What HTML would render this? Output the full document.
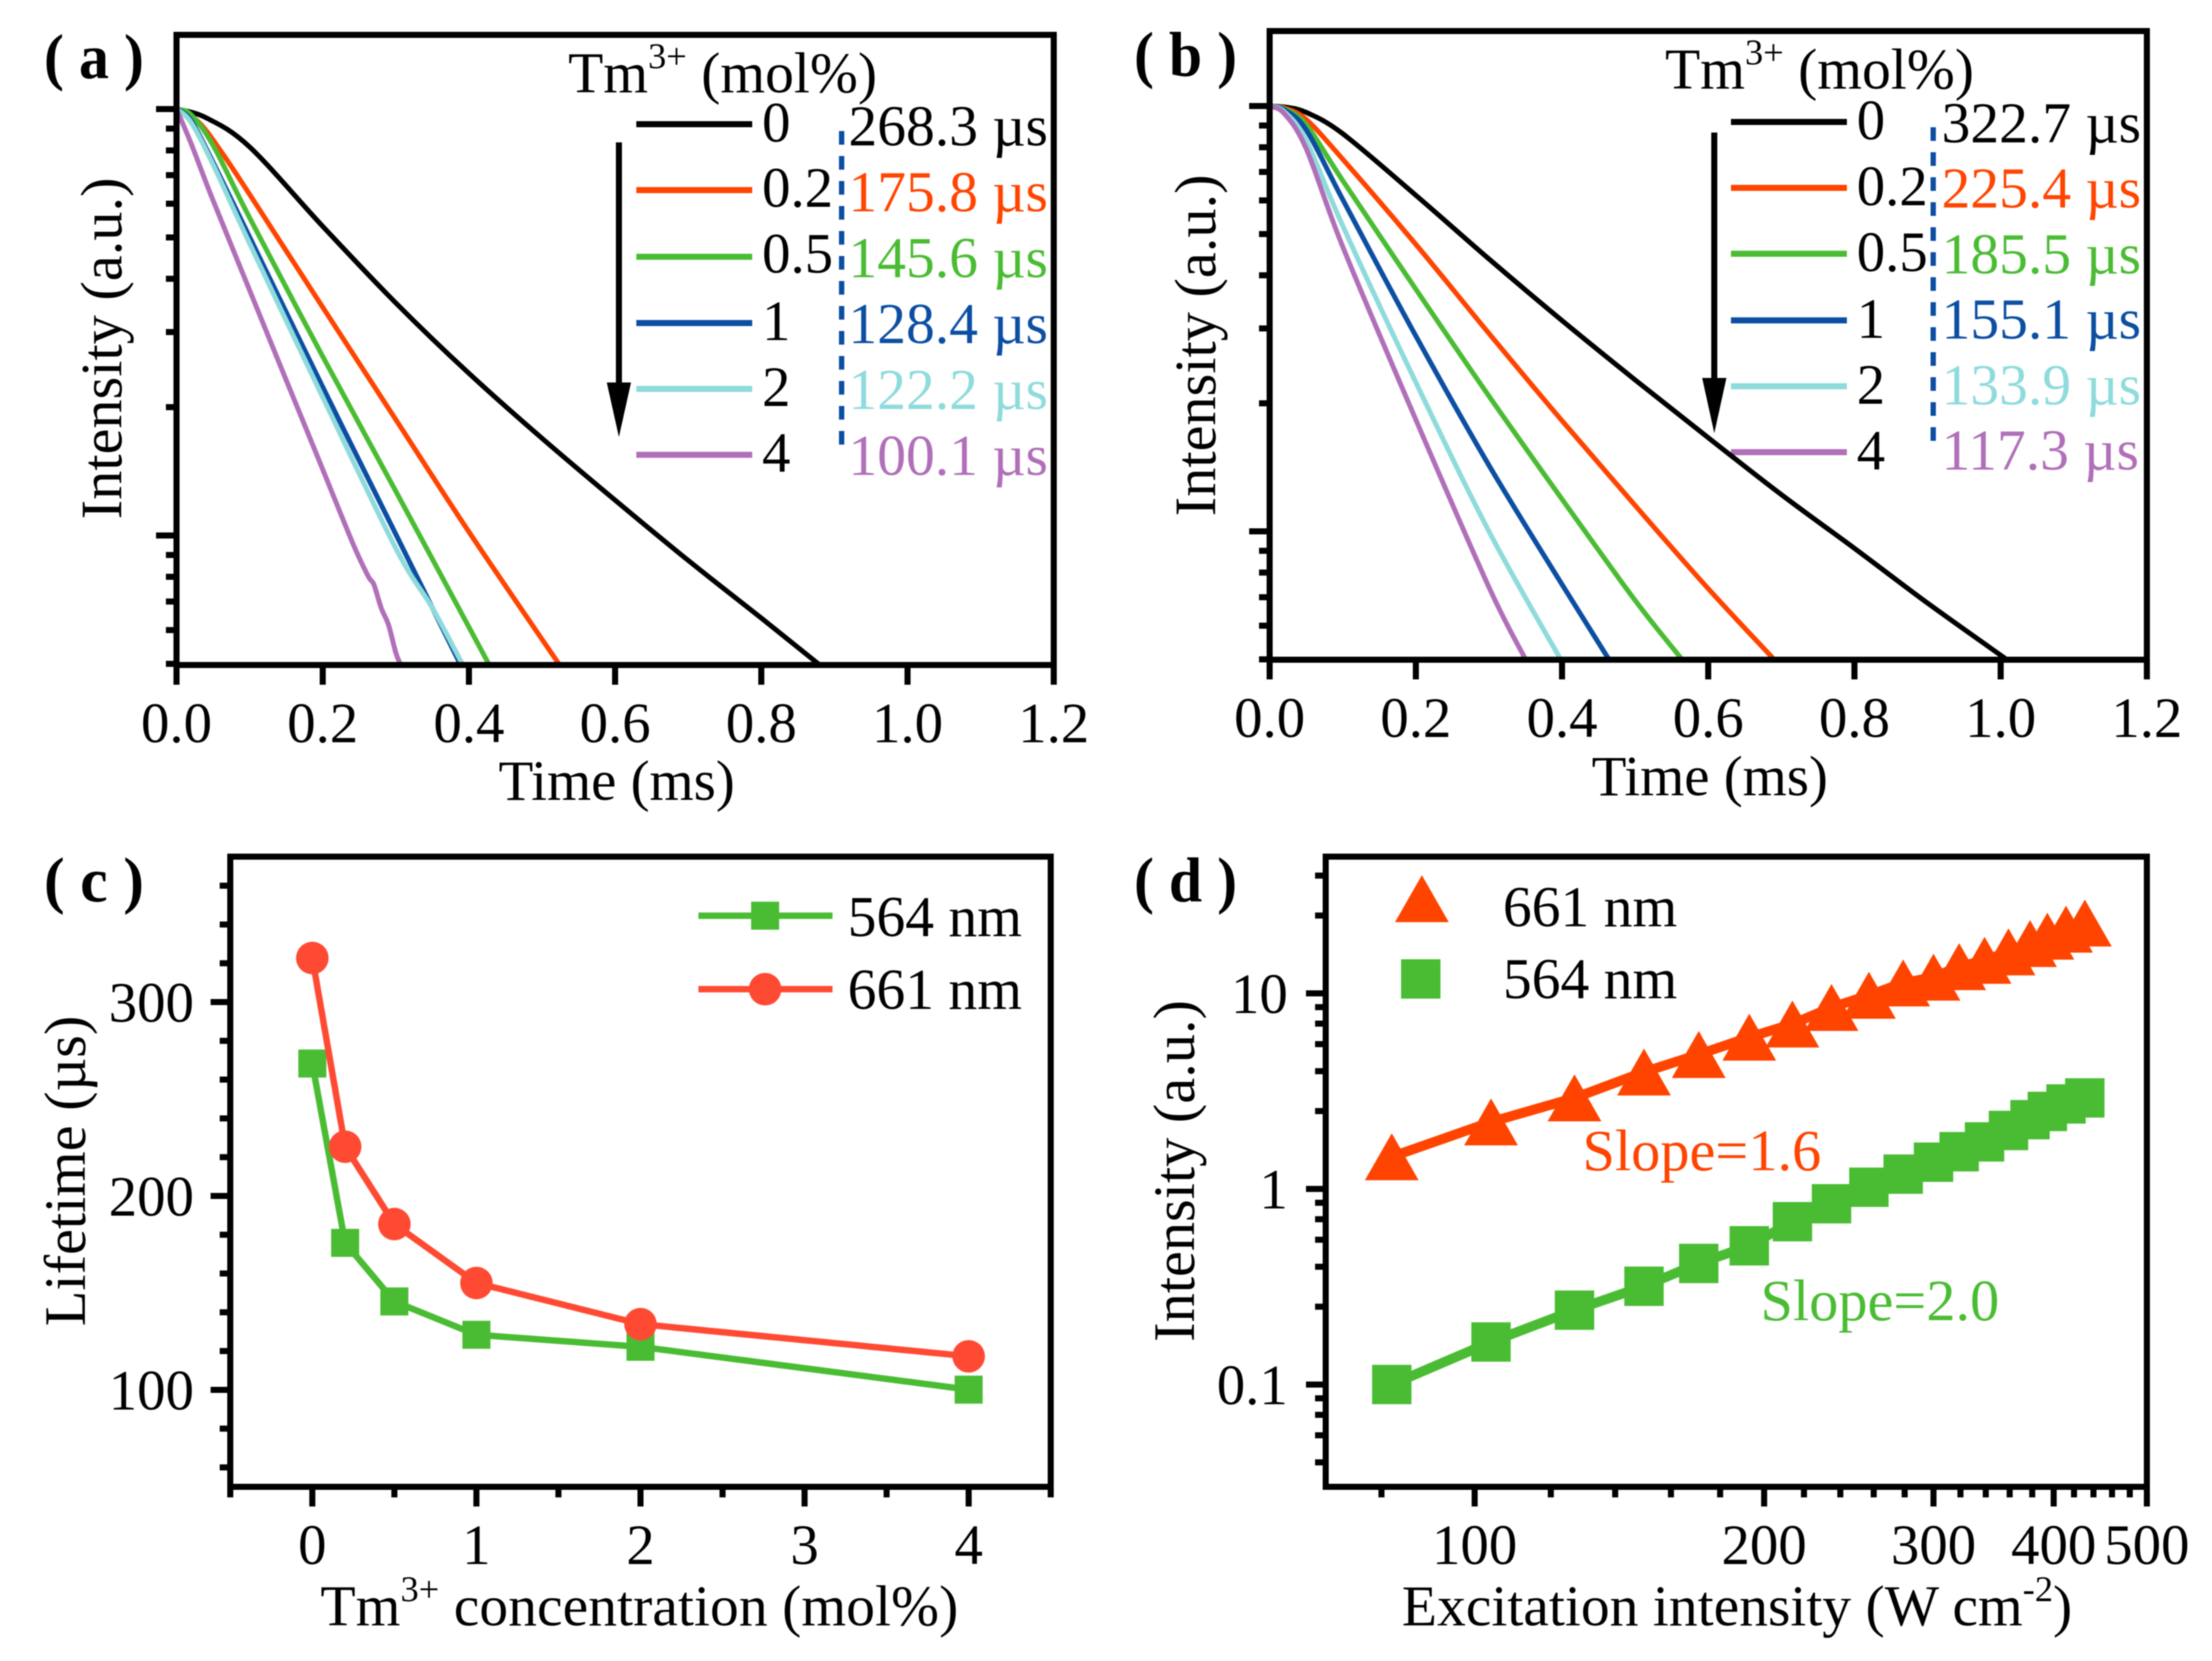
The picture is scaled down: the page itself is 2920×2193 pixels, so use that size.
<!DOCTYPE html>
<html>
<head>
<meta charset="utf-8">
<title>Tm3+ lifetime and intensity chart</title>
<style>
html,body{margin:0;padding:0;background:#fff;}
#figure{display:block;width:2920px;height:2193px;filter:blur(0.9px);}
text{font-family:"Liberation Serif","DejaVu Serif",serif;font-size:75px;fill:#000;}
text.m{font-size:76px;}
text.l{font-size:77px;}
.b{font-weight:bold;font-size:84px;}
.sup{font-size:48px;}
</style>
</head>
<body>
<svg id="figure" xmlns="http://www.w3.org/2000/svg" width="2920" height="2193" viewBox="0 0 2920 2193">
<rect x="0" y="0" width="2920" height="2193" fill="#fff"/>

<g id="panelA">
<text class="b" x="58" y="103" textLength="132" lengthAdjust="spacingAndGlyphs">( a )</text>
<text x="814" y="1056" text-anchor="middle">Time (ms)</text>
<text class="l" transform="translate(160,460) rotate(-90)" text-anchor="middle">Intensity (a.u.)</text>
<text class="m" x="750" y="122">Tm<tspan class="sup" dy="-32">3+</tspan><tspan dy="32"> (mol%)</tspan></text>
<line x1="840" x2="993" y1="164" y2="164" stroke="#000" stroke-width="8"/>
<line x1="840" x2="993" y1="251" y2="251" stroke="#ff4400" stroke-width="8"/>
<line x1="840" x2="993" y1="339" y2="339" stroke="#4abc33" stroke-width="8"/>
<line x1="840" x2="993" y1="426.5" y2="426.5" stroke="#0b4ea2" stroke-width="8"/>
<line x1="840" x2="993" y1="513.5" y2="513.5" stroke="#8fdbdc" stroke-width="8"/>
<line x1="840" x2="993" y1="600.5" y2="600.5" stroke="#b06fb8" stroke-width="8"/>
<text x="1006" y="187">0</text>
<text x="1006" y="273">0.2</text>
<text x="1006" y="360">0.5</text>
<text x="1006" y="449">1</text>
<text x="1006" y="536">2</text>
<text x="1006" y="623">4</text>
<text class="m" x="1120" y="192">268.3 µs</text>
<text class="m" x="1120" y="279" style="fill:#ff4400">175.8 µs</text>
<text class="m" x="1120" y="366" style="fill:#4abc33">145.6 µs</text>
<text class="m" x="1120" y="453" style="fill:#0b4ea2">128.4 µs</text>
<text class="m" x="1120" y="540" style="fill:#8fdbdc">122.2 µs</text>
<text class="m" x="1120" y="627" style="fill:#b06fb8">100.1 µs</text>
<line x1="1111" x2="1111" y1="173" y2="589" stroke="#0b4ea2" stroke-width="7" stroke-dasharray="18 15"/>
<line x1="817" x2="817" y1="188" y2="520" stroke="#000" stroke-width="8"/>
<polygon points="801,505 833,505 817,577" fill="#000"/>
</g>

<g id="panelB">
<text class="b" x="1497" y="100" textLength="136" lengthAdjust="spacingAndGlyphs">( b )</text>
<text x="2257" y="1050" text-anchor="middle">Time (ms)</text>
<text class="l" transform="translate(1604,456) rotate(-90)" text-anchor="middle">Intensity (a.u.)</text>
<text class="m" x="2198" y="117">Tm<tspan class="sup" dy="-32">3+</tspan><tspan dy="32"> (mol%)</tspan></text>
<line x1="2285" x2="2438" y1="161" y2="161" stroke="#000" stroke-width="8"/>
<line x1="2285" x2="2438" y1="248" y2="248" stroke="#ff4400" stroke-width="8"/>
<line x1="2285" x2="2438" y1="335" y2="335" stroke="#4abc33" stroke-width="8"/>
<line x1="2285" x2="2438" y1="423" y2="423" stroke="#0b4ea2" stroke-width="8"/>
<line x1="2285" x2="2438" y1="510" y2="510" stroke="#8fdbdc" stroke-width="8"/>
<line x1="2285" x2="2438" y1="597" y2="597" stroke="#b06fb8" stroke-width="8"/>
<text x="2451" y="184">0</text>
<text x="2451" y="271">0.2</text>
<text x="2451" y="358">0.5</text>
<text x="2451" y="446">1</text>
<text x="2451" y="533">2</text>
<text x="2451" y="620">4</text>
<text class="m" x="2563" y="188">322.7 µs</text>
<text class="m" x="2563" y="274" style="fill:#ff4400">225.4 µs</text>
<text class="m" x="2563" y="361" style="fill:#4abc33">185.5 µs</text>
<text class="m" x="2563" y="447" style="fill:#0b4ea2">155.1 µs</text>
<text class="m" x="2563" y="534" style="fill:#8fdbdc">133.9 µs</text>
<text class="m" x="2563" y="620" style="fill:#b06fb8">117.3 µs</text>
<line x1="2552" x2="2552" y1="168" y2="582" stroke="#0b4ea2" stroke-width="7" stroke-dasharray="18 15"/>
<line x1="2263" x2="2263" y1="175" y2="515" stroke="#000" stroke-width="8"/>
<polygon points="2247,499 2279,499 2263,572" fill="#000"/>
</g>

<g id="panelC">
<text class="b" x="58" y="1190" textLength="132" lengthAdjust="spacingAndGlyphs">( c )</text>
<text class="m" x="844" y="2146" text-anchor="middle" textLength="842" lengthAdjust="spacing">Tm<tspan class="sup" dy="-32">3+</tspan><tspan dy="32"> concentration (mol%)</tspan></text>
<text class="l" transform="translate(112,1546) rotate(-90)" text-anchor="middle">Lifetime (µs)</text>
</g>

<g id="panelD">
<text class="b" x="1497" y="1190" textLength="136" lengthAdjust="spacingAndGlyphs">( d )</text>
<text class="m" x="2293" y="2146" text-anchor="middle">Excitation intensity (W cm<tspan class="sup" dy="-32">-2</tspan><tspan dy="32">)</tspan></text>
<text class="l" transform="translate(1576,1546) rotate(-90)" text-anchor="middle">Intensity (a.u.)</text>
<text class="l" x="2089" y="1545" style="fill:#ff4400">Slope=1.6</text>
<text class="l" x="2324" y="1743" style="fill:#4abc33">Slope=2.0</text>
</g>
</svg>

<script>
// Panel (a) decay curves: time in ms, intensity normalised
const aTime0 = [0, 0.04, 0.1, 0.2, 0.3, 0.4, 0.5, 0.6, 0.7, 0.8, 0.878];
const aInt0 = [1, 0.955, 0.815, 0.531, 0.351, 0.24, 0.169, 0.121, 0.0874, 0.064, 0.05];
const aTime02 = [0, 0.03, 0.06, 0.1, 0.2, 0.3, 0.4, 0.523];
const aInt02 = [1, 0.933, 0.8, 0.631, 0.343, 0.187, 0.102, 0.05];
const aTime05 = [0, 0.02, 0.05, 0.1, 0.2, 0.3, 0.4, 0.427];
const aInt05 = [1, 0.97, 0.822, 0.556, 0.263, 0.127, 0.061, 0.05];
const aTime1 = [0, 0.02, 0.05, 0.1, 0.2, 0.3, 0.388];
const aInt1 = [1, 0.94, 0.75, 0.501, 0.223, 0.1007, 0.05];
const aTime2 = [0, 0.02, 0.05, 0.1, 0.2, 0.3, 0.35, 0.391];
const aInt2 = [1, 0.93, 0.741, 0.484, 0.211, 0.0933, 0.0676, 0.05];
const aTime4 = [0, 0.02, 0.048, 0.0965, 0.145, 0.193, 0.241, 0.262, 0.27, 0.28, 0.29, 0.3, 0.306];
const aInt4 = [1, 0.83, 0.623, 0.389, 0.243, 0.153, 0.096, 0.0804, 0.0767, 0.0676, 0.0617, 0.0531, 0.05];

// Panel (b) decay curves
const bTime0 = [0, 0.02, 0.05, 0.1, 0.2, 0.3, 0.4, 0.5, 0.6, 0.7, 0.8, 0.9, 1.008];
const bInt0 = [1, 0.995, 0.966, 0.861, 0.617, 0.437, 0.313, 0.227, 0.166, 0.122, 0.0912, 0.0678, 0.05];
const bTime02 = [0, 0.02, 0.05, 0.1, 0.2, 0.3, 0.4, 0.5, 0.6, 0.69];
const bInt02 = [1, 0.99, 0.93, 0.75, 0.473, 0.292, 0.182, 0.115, 0.0733, 0.05];
const bTime05 = [0, 0.02, 0.05, 0.1, 0.2, 0.3, 0.4, 0.5, 0.564];
const bInt05 = [1, 0.985, 0.904, 0.668, 0.371, 0.208, 0.119, 0.0688, 0.05];
const bTime1 = [0, 0.02, 0.05, 0.1, 0.2, 0.3, 0.4, 0.464];
const bInt1 = [1, 0.98, 0.879, 0.603, 0.288, 0.143, 0.075, 0.05];
const bTime2 = [0, 0.02, 0.05, 0.1, 0.2, 0.3, 0.398];
const bInt2 = [1, 0.97, 0.83, 0.523, 0.224, 0.1, 0.05];
const bTime4 = [0, 0.02, 0.05, 0.1, 0.2, 0.3, 0.35];
const bInt4 = [1, 0.96, 0.794, 0.467, 0.183, 0.0739, 0.05];

const decayLabels = ['0', '0.2', '0.5', '1', '2', '4'];
const decayTicks = ['0.0', '0.2', '0.4', '0.6', '0.8', '1.0', '1.2'];

// Panel (c) lifetime vs concentration
const concentration = [0, 0.2, 0.5, 1, 2, 4];
const lifetime564 = [268.3, 175.8, 145.6, 128.4, 122.2, 100.1];
const lifetime661 = [322.7, 225.4, 185.5, 155.1, 133.9, 117.3];
const cXTicks = ['0', '1', '2', '3', '4'];
const cYTicks = ['100', '200', '300'];

// Panel (d) power dependence
const excitation = [82, 104, 127, 150, 171, 193, 214, 235, 257, 279, 300, 319, 339, 359, 378, 394, 412, 431];
const intensity661 = [1.46, 2.2, 2.92, 3.96, 4.87, 5.97, 6.97, 8.47, 9.78, 11.3, 12.1, 13.7, 14.75, 16.3, 17.97, 19.6, 21.3, 22.9];
const intensity564 = [0.1, 0.165, 0.24, 0.318, 0.416, 0.512, 0.68, 0.84, 1.02, 1.19, 1.37, 1.55, 1.74, 1.99, 2.26, 2.49, 2.72, 2.92];
const dXTicks = ['100', '200', '300', '400', '500'];
const dYTicks = ['0.1', '1', '10'];
const dYMinor = [0.04, 0.055, 0.07, 0.085, 0.25, 0.4, 0.55, 0.7, 0.85, 2.5, 4, 5.5, 7, 8.5, 25, 40];

const NS = 'http://www.w3.org/2000/svg';
const RED = '#ff4400', GREEN = '#4abc33', BLUE = '#0b4ea2', CYAN = '#8fdbdc', PURPLE = '#b06fb8';

function linScale(d0, d1, r0, r1) { return v => r0 + (v - d0) / (d1 - d0) * (r1 - r0); }
function logScale(d0, d1, r0, r1) {
  const a = Math.log10(d0), b = Math.log10(d1);
  return v => r0 + (Math.log10(v) - a) / (b - a) * (r1 - r0);
}
function make(parent, tag, attrs, name) {
  const el = document.createElementNS(NS, tag);
  for (const k in attrs) el.setAttribute(k, attrs[k]);
  
  
  parent.appendChild(el);
  return el;
}
function frame(g, box, name) {
  make(g, 'rect', { x: box.l, y: box.t, width: box.r - box.l, height: box.b - box.t, fill: 'none', stroke: '#000', 'stroke-width': 8 }, name);
}
function xTick(g, x, box, len, name) {
  make(g, 'line', { x1: x, x2: x, y1: box.b, y2: box.b + len, stroke: '#000', 'stroke-width': 8 }, name);
}
function yTick(g, y, box, len, name) {
  make(g, 'line', { x1: box.l, x2: box.l - len, y1: y, y2: y, stroke: '#000', 'stroke-width': 8 }, name);
}
function label(g, x, y, str, anchor, name, cls) {
  const t = make(g, 'text', { x: x, y: y, 'text-anchor': anchor, class: cls || '' }, name);
  t.textContent = str;
  return t;
}
function smoothPath(pts) {
  let d = 'M' + pts[0][0].toFixed(1) + ' ' + pts[0][1].toFixed(1);
  for (let i = 0; i < pts.length - 1; i++) {
    const p0 = pts[Math.max(i - 1, 0)], p1 = pts[i], p2 = pts[i + 1], p3 = pts[Math.min(i + 2, pts.length - 1)];
    const c1x = p1[0] + (p2[0] - p0[0]) / 6, c1y = p1[1] + (p2[1] - p0[1]) / 6;
    const c2x = p2[0] - (p3[0] - p1[0]) / 6, c2y = p2[1] - (p3[1] - p1[1]) / 6;
    d += 'C' + c1x.toFixed(1) + ' ' + c1y.toFixed(1) + ' ' + c2x.toFixed(1) + ' ' + c2y.toFixed(1) + ' ' + p2[0].toFixed(1) + ' ' + p2[1].toFixed(1);
  }
  return d;
}

function drawDecay(g, tag, box, y1px, y01px, labelBase, times, ints) {
  const x = linScale(0, 1.2, box.l, box.r);
  const y = logScale(0.1, 1, y01px, y1px);
  const colors = ['#000', RED, GREEN, BLUE, CYAN, PURPLE];
  times.forEach((ts, i) => {
    const pts = ts.map((t, j) => [x(t), y(ints[i][j])]);
    make(g, 'path', { d: smoothPath(pts), fill: 'none', stroke: colors[i], 'stroke-width': 6.5, 'stroke-linejoin': 'round' }, 'decay-curve-' + tag + '-' + decayLabels[i]);
  });
  frame(g, box, 'plot-frame-' + tag);
  decayTicks.forEach(s => {
    xTick(g, x(+s), box, 26, 'x-tick-' + tag + '-' + s);
    label(g, x(+s), labelBase, s, 'middle', 'x-tick-label-' + tag + '-' + s);
  });
  [1, 0.1].forEach(v => yTick(g, y(v), box, 27, 'y-major-tick-' + tag));
  [0.9, 0.8, 0.7, 0.6, 0.5, 0.4, 0.3, 0.2, 0.09, 0.08, 0.07, 0.06, 0.05].forEach(v => yTick(g, y(v), box, 14, 'y-minor-tick-' + tag));
}

drawDecay(document.getElementById('panelA'), 'a', { l: 233, r: 1391, t: 46, b: 878 }, 144, 707, 980,
  [aTime0, aTime02, aTime05, aTime1, aTime2, aTime4], [aInt0, aInt02, aInt05, aInt1, aInt2, aInt4]);
drawDecay(document.getElementById('panelB'), 'b', { l: 1676, r: 2834, t: 41, b: 871 }, 140, 701.5, 973,
  [bTime0, bTime02, bTime05, bTime1, bTime2, bTime4], [bInt0, bInt02, bInt05, bInt1, bInt2, bInt4]);

// Panel (c)
(function () {
  const g = document.getElementById('panelC');
  const box = { l: 304, r: 1387, t: 1131, b: 1963 };
  const x = linScale(-0.5, 4.5, box.l, box.r);
  const y = linScale(50, 375, box.b, box.t);
  frame(g, box, 'plot-frame-c');
  for (let v = -0.5; v <= 4.5; v += 0.5) {
    xTick(g, x(v), box, Number.isInteger(v) ? 26 : 14, 'x-tick-c');
  }
  cXTicks.forEach(s => label(g, x(+s), 2065, s, 'middle', 'x-tick-label-c-' + s));
  for (let v = 60; v <= 360; v += 20) {
    yTick(g, y(v), box, v % 100 === 0 ? 26 : 14, 'y-tick-c');
  }
  cYTicks.forEach(s => label(g, 256, y(+s) + 26, s, 'end', 'y-tick-label-c-' + s));
  const pts564 = concentration.map((c, i) => x(c).toFixed(1) + ',' + y(lifetime564[i]).toFixed(1)).join(' ');
  const pts661 = concentration.map((c, i) => x(c).toFixed(1) + ',' + y(lifetime661[i]).toFixed(1)).join(' ');
  make(g, 'polyline', { points: pts564, fill: 'none', stroke: GREEN, 'stroke-width': 8.5 }, 'series-line-564');
  concentration.forEach((c, i) => {
    make(g, 'rect', { x: x(c) - 18.5, y: y(lifetime564[i]) - 18.5, width: 37, height: 37, fill: GREEN }, 'point-564-' + c);
  });
  make(g, 'polyline', { points: pts661, fill: 'none', stroke: '#ff4a33', 'stroke-width': 8.5 }, 'series-line-661');
  concentration.forEach((c, i) => {
    make(g, 'circle', { cx: x(c), cy: y(lifetime661[i]), r: 21.5, fill: '#ff4a33' }, 'point-661-' + c);
  });
  make(g, 'line', { x1: 922, x2: 1099, y1: 1209, y2: 1209, stroke: GREEN, 'stroke-width': 8.5 }, 'legend-line-564');
  make(g, 'rect', { x: 991.5, y: 1190.5, width: 37, height: 37, fill: GREEN }, 'legend-marker-564');
  label(g, 1119, 1236, '564 nm', 'start', 'legend-label-564', 'm');
  make(g, 'line', { x1: 922, x2: 1099, y1: 1306, y2: 1306, stroke: '#ff4a33', 'stroke-width': 8.5 }, 'legend-line-661');
  make(g, 'circle', { cx: 1010, cy: 1306, r: 21.5, fill: '#ff4a33' }, 'legend-marker-661');
  label(g, 1119, 1332, '661 nm', 'start', 'legend-label-661', 'm');
})();

// Panel (d)
(function () {
  const g = document.getElementById('panelD');
  const box = { l: 1750, r: 2834, t: 1131, b: 1963 };
  const x = logScale(70, 500, box.l, box.r);
  const y = logScale(0.03, 50, box.b, box.t);
  function tri(cx, cy, name) {
    const pts = (cx - 35.5) + ',' + (cy + 31) + ' ' + (cx + 35.5) + ',' + (cy + 31) + ' ' + cx + ',' + (cy - 31);
    make(g, 'polygon', { points: pts, fill: RED }, name);
  }
  frame(g, box, 'plot-frame-d');
  for (let v = 80; v <= 500; v += 20) {
    xTick(g, x(v), box, v % 100 === 0 ? 26 : 14, 'x-tick-d');
  }
  dXTicks.forEach(s => label(g, x(+s), 2065, s, 'middle', 'x-tick-label-d-' + s));
  dYTicks.forEach(s => yTick(g, y(+s), box, 26, 'y-major-tick-d'));
  dYMinor.forEach(v => yTick(g, y(v), box, 14, 'y-minor-tick-d'));
  dYTicks.forEach(s => label(g, 1700, y(+s) + 26, s, 'end', 'y-tick-label-d-' + s));
  const pts661 = excitation.map((e, i) => x(e).toFixed(1) + ',' + y(intensity661[i]).toFixed(1)).join(' ');
  const pts564 = excitation.map((e, i) => x(e).toFixed(1) + ',' + y(intensity564[i]).toFixed(1)).join(' ');
  make(g, 'polyline', { points: pts661, fill: 'none', stroke: RED, 'stroke-width': 13 }, 'series-line-661');
  make(g, 'polyline', { points: pts564, fill: 'none', stroke: GREEN, 'stroke-width': 13 }, 'series-line-564');
  excitation.forEach((e, i) => tri(x(e), y(intensity661[i]), 'point-661-' + e));
  excitation.forEach((e, i) => {
    make(g, 'rect', { x: x(e) - 26, y: y(intensity564[i]) - 26, width: 52, height: 52, fill: GREEN }, 'point-564-' + e);
  });
  tri(1877, 1186.5, 'legend-marker-661');
  label(g, 1984, 1223, '661 nm', 'start', 'legend-label-661', 'm');
  make(g, 'rect', { x: 1849.5, y: 1266.5, width: 52, height: 52, fill: GREEN }, 'legend-marker-564');
  label(g, 1984, 1318, '564 nm', 'start', 'legend-label-564', 'm');
})();
</script>
</body>
</html>
